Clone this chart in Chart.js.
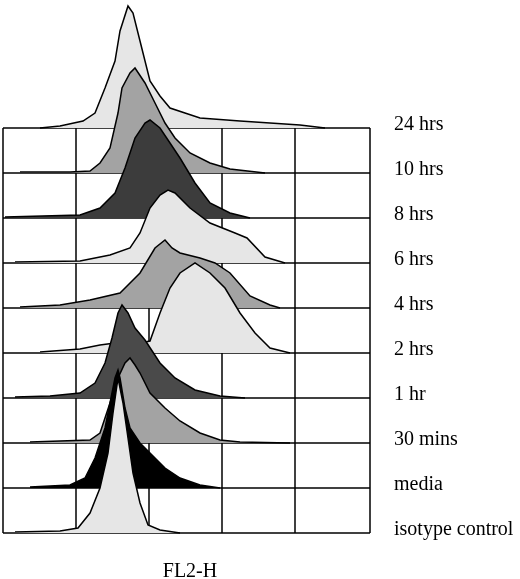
<!DOCTYPE html>
<html>
<head>
<meta charset="utf-8">
<script src="https://cdn.jsdelivr.net/npm/chart.js@4"></script>
<style>
  html, body { margin: 0; padding: 0; background: #fff; }
</style>
</head>
<body>
<canvas id="histChart" width="520" height="579"></canvas>
<script>
// Etiquetas de cada histograma (de abajo hacia arriba)
const labels = ["isotype control", "media", "30 mins", "1 hr", "2 hrs", "4 hrs", "6 hrs", "8 hrs", "10 hrs", "24 hrs"];

// Línea base de cada fila (unidades del eje y)
const baselines = [46, 91, 136, 181, 226, 271, 316, 361, 406, 451];

// Canal FL2-H (posición) y altura estimada de cada histograma
const isoX = [15, 60, 78, 90, 100, 108, 113, 118, 123, 128, 133, 140, 148, 160, 180];
const isoH = [1, 2, 5, 20, 45, 80, 120, 155, 130, 95, 60, 30, 8, 3, 0];

const mediaX = [30, 70, 85, 95, 105, 110, 115, 118, 120, 125, 130, 140, 150, 165, 180, 200, 220];
const mediaH = [1, 3, 10, 30, 60, 85, 110, 118, 110, 80, 60, 45, 35, 20, 10, 3, 0];

const min30X = [30, 90, 100, 110, 118, 125, 130, 135, 140, 150, 165, 180, 200, 220, 240, 290];
const min30H = [1, 3, 10, 40, 65, 80, 85, 78, 70, 50, 35, 22, 10, 3, 1, 0];

const hr1X = [15, 50, 80, 95, 105, 112, 118, 122, 128, 135, 145, 160, 175, 195, 220, 245];
const hr1H = [1, 2, 5, 15, 35, 60, 85, 93, 85, 70, 58, 35, 20, 8, 2, 0];

const hr2X = [40, 80, 100, 115, 140, 150, 160, 170, 180, 195, 210, 225, 240, 255, 270, 290];
const hr2H = [1, 4, 8, 10, 10, 12, 40, 65, 80, 90, 80, 65, 40, 20, 5, 0];

const hr4X = [20, 60, 90, 120, 140, 155, 165, 172, 180, 200, 215, 230, 250, 270, 280];
const hr4H = [1, 3, 8, 15, 35, 60, 68, 60, 55, 50, 45, 35, 12, 3, 0];

const hr6X = [15, 80, 110, 130, 140, 150, 160, 168, 175, 190, 210, 235, 247, 265, 285];
const hr6H = [1, 2, 8, 15, 30, 55, 68, 73, 70, 55, 40, 30, 25, 6, 0];

const hr8X = [5, 80, 100, 115, 125, 135, 145, 150, 160, 170, 180, 195, 210, 230, 250];
const hr8H = [1, 3, 10, 25, 50, 80, 95, 98, 90, 75, 60, 35, 15, 5, 0];

const hr10X = [20, 70, 90, 100, 110, 118, 122, 130, 135, 145, 155, 165, 175, 190, 210, 230, 265];
const hr10H = [1, 1, 2, 10, 25, 60, 85, 100, 105, 90, 70, 50, 35, 20, 10, 4, 0];

const hr24X = [40, 60, 83, 95, 105, 115, 120, 128, 133, 140, 150, 160, 170, 200, 240, 300, 325];
const hr24H = [0, 2, 7, 15, 40, 67, 97, 122, 115, 87, 47, 32, 20, 10, 7, 3, 0];

const seriesX = [isoX, mediaX, min30X, hr1X, hr2X, hr4X, hr6X, hr8X, hr10X, hr24X];
const seriesH = [isoH, mediaH, min30H, hr1H, hr2H, hr4H, hr6H, hr8H, hr10H, hr24H];
const fills = ["#e6e6e6", "#000000", "#a3a3a3", "#4a4a4a", "#e6e6e6", "#a3a3a3", "#e6e6e6", "#3c3c3c", "#a3a3a3", "#e6e6e6"];

// Grilla
const gridX = [3, 76, 149, 222, 295, 370];

const datasets = labels.map((lab, i) => ({
    label: lab,
    data: seriesX[i].map((x, j) => ({ x: x, y: baselines[i] + seriesH[i][j] })),
    borderColor: "#000",
    borderWidth: 1.5,
    backgroundColor: fills[i],
    fill: { value: baselines[i] },
    pointRadius: 0,
    tension: 0,
    order: i, // el de abajo queda encima
}));

const gridPlugin = {
    id: "grid",
    beforeDatasetsDraw(chart) {
        const { ctx, scales: { x, y } } = chart;
        ctx.save();
        ctx.strokeStyle = "#000";
        ctx.lineWidth = 1.5;
        const top = y.getPixelForValue(baselines[baselines.length - 1]);
        const bottom = y.getPixelForValue(baselines[0]);
        baselines.forEach(b => {
            const py = y.getPixelForValue(b);
            ctx.beginPath();
            ctx.moveTo(x.getPixelForValue(gridX[0]), py);
            ctx.lineTo(x.getPixelForValue(gridX[gridX.length - 1]), py);
            ctx.stroke();
        });
        gridX.forEach(g => {
            const px = x.getPixelForValue(g);
            ctx.beginPath();
            ctx.moveTo(px, top);
            ctx.lineTo(px, bottom);
            ctx.stroke();
        });
        ctx.restore();
    },
    afterDraw(chart) {
        const { ctx, scales: { x, y } } = chart;
        ctx.save();
        ctx.fillStyle = "#000";
        ctx.font = "20px 'Liberation Serif', serif";
        ctx.textBaseline = "alphabetic";
        labels.forEach((lab, i) => {
            ctx.fillText(lab, 394, y.getPixelForValue(baselines[i]) + 2);
        });
        ctx.textAlign = "center";
        ctx.fillText("FL2-H", 190, 577);
        ctx.restore();
    },
};

const ctx = document.getElementById("histChart").getContext("2d");
new Chart(ctx, {
    type: "line",
    data: { datasets: datasets },
    options: {
        responsive: false,
        animation: false,
        layout: { padding: 0 },
        plugins: { legend: { display: false }, tooltip: { enabled: false } },
        scales: {
            x: { type: "linear", min: 0, max: 520, display: false },
            y: { type: "linear", min: 0, max: 579, display: false },
        },
    },
    plugins: [gridPlugin],
});
</script>
</body>
</html>
